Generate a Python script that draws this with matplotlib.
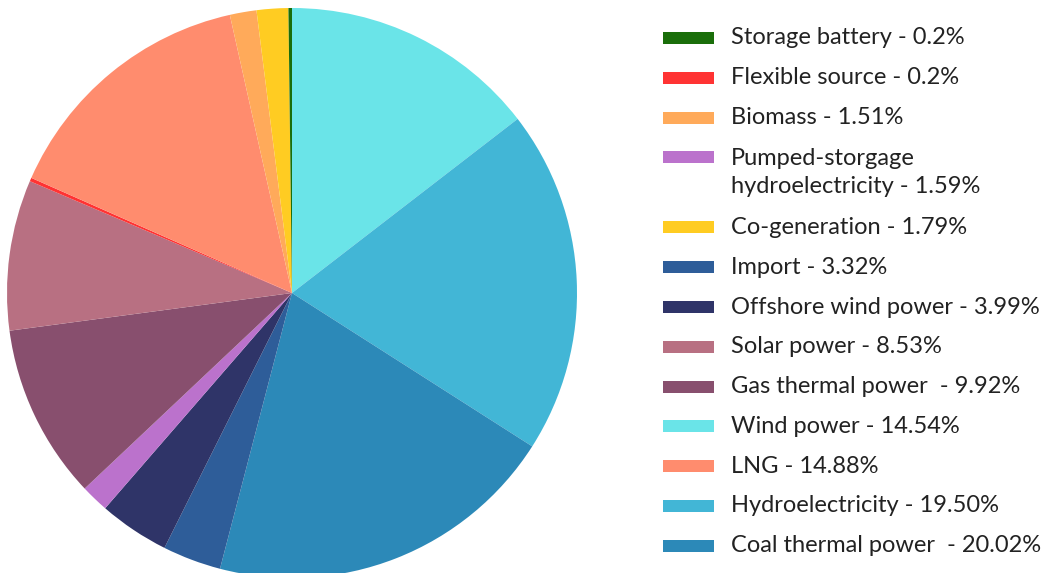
import matplotlib.pyplot as plt
from matplotlib.patches import Rectangle

plt.rcParams['font.family'] = ['Lato', 'DejaVu Sans']

# legend order (ascending share)
labels = ['Storage battery', 'Flexible source', 'Biomass', 'Pumped-storgage\nhydroelectricity',
          'Co-generation', 'Import', 'Offshore wind power', 'Solar power',
          'Gas thermal power ', 'Wind power', 'LNG', 'Hydroelectricity', 'Coal thermal power ']
values = [0.2, 0.2, 1.51, 1.59, 1.79, 3.32, 3.99, 8.53, 9.92, 14.54, 14.88, 19.50, 20.02]
value_text = ['0.2%', '0.2%', '1.51%', '1.59%', '1.79%', '3.32%', '3.99%', '8.53%',
              '9.92%', '14.54%', '14.88%', '19.50%', '20.02%']
colors = ['#1a6e0a', '#ff3333', '#ffaa5a', '#bb72cc', '#ffcc22', '#2e5d99', '#2f3468',
          '#b87082', '#884f6e', '#6ae4e8', '#ff8c6e', '#42b6d6', '#2c89b8']

# clockwise order of the slices, starting at 12 o'clock
pie_order = [9, 11, 12, 5, 6, 3, 8, 7, 1, 10, 2, 4, 0]

W, H = 1043, 573
fig = plt.figure(figsize=(W / 100, H / 100), dpi=100)
ax = fig.add_axes([0, 0, 1, 1])

ax.pie([values[i] for i in pie_order], colors=[colors[i] for i in pie_order],
       startangle=90, counterclock=False, center=(292, H - 293), radius=285,
       frame=True, wedgeprops=dict(linewidth=0))
ax.set_xlim(0, W)
ax.set_ylim(0, H)
ax.set_aspect('equal')
ax.axis('off')

# legend drawn by hand
y = 38
for i, lab in enumerate(labels):
    n_lines = lab.count('\n') + 1
    ax.add_patch(Rectangle((663, H - y - 6), 51, 12, color=colors[i], lw=0))
    text = lab + ' - ' + value_text[i]
    ty = y + 15 * (n_lines - 1)
    ax.text(731, H - ty, text, fontsize=17, color='#222222', va='center',
            linespacing=1.45)
    y += 70 if n_lines > 1 else 39.8

fig.savefig('out.png', dpi=100)
